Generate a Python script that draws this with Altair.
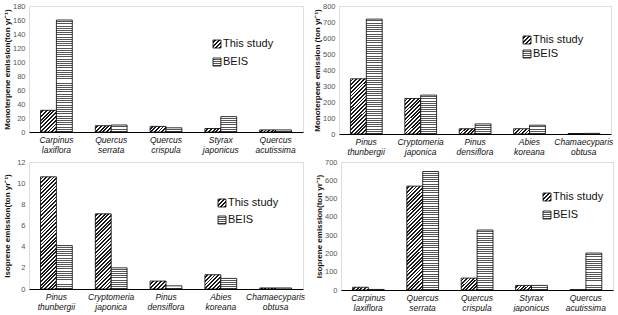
import altair as alt
import pandas as pd

# ---------------- data ----------------
series = ["This study", "BEIS"]

p1_species = ["Carpinus laxiflora", "Quercus serrata", "Quercus crispula", "Styrax japonicus", "Quercus acutissima"]
p1_study = [31, 9, 8, 5, 3]
p1_beis = [160, 10, 6, 22, 3]

p2_species = ["Pinus thunbergii", "Cryptomeria japonica", "Pinus densiflora", "Abies koreana", "Chamaecyparis obtusa"]
p2_study = [345, 222, 33, 33, 3]
p2_beis = [718, 243, 63, 55, 4]

p3_species = ["Pinus thunbergii", "Cryptomeria japonica", "Pinus densiflora", "Abies koreana", "Chamaecyparis obtusa"]
p3_study = [10.6, 7.1, 0.75, 1.35, 0.1]
p3_beis = [4.1, 2.0, 0.3, 1.0, 0.1]

p4_species = ["Carpinus laxiflora", "Quercus serrata", "Quercus crispula", "Styrax japonicus", "Quercus acutissima"]
p4_study = [15, 568, 65, 25, 2]
p4_beis = [3, 648, 328, 25, 202]

FONT = "Liberation Sans"
PAD_INNER = 0.42
PAD_OUTER = 0.21


# ---------------- pattern-like gradients (style only) ----------------
def gradient(n, dark_frac, x2, y2, dark, light="#ffffff"):
    stops = []
    for i in range(n):
        a = i / n
        b = (i + 1 - dark_frac) / n
        c = (i + 1) / n
        stops += [
            alt.GradientStop(offset=a, color=light),
            alt.GradientStop(offset=b, color=light),
            alt.GradientStop(offset=b, color=dark),
            alt.GradientStop(offset=c, color=dark),
        ]
    return alt.LinearGradient(gradient="linear", stops=stops, x1=0, y1=0, x2=x2, y2=y2)


def hatch_fill(w, h):
    # 45 degree "/" hatch with roughly constant spacing whatever the box shape
    h = max(h, 1.0)
    s = (w + h) / (w * w + h * h)
    n = max(1, round((w + h) / (2.6 * 1.414)))
    return gradient(n, 0.5, w * s, h * s, "#1a1a1a")


def stripe_fill(w, h):
    h = max(h, 1.0)
    n = max(1, round(h / 2.2))
    return gradient(n, 0.45, 0, 1, "#555555")


def panel(species, study, beis, ytitle, ymax, ystep, leg, w, h):
    rows = []
    for s, a, b in zip(species, study, beis):
        rows.append({"species": s, "series": series[0], "value": a})
        rows.append({"species": s, "series": series[1], "value": b})
    df = pd.DataFrame(rows)

    step = w / (len(species) - PAD_INNER + 2 * PAD_OUTER)
    bar_w = step * (1 - PAD_INNER) / 2

    base = alt.Chart(df).encode(
        x=alt.X(
            "species:N",
            sort=species,
            scale=alt.Scale(paddingInner=PAD_INNER, paddingOuter=PAD_OUTER),
            axis=alt.Axis(
                title=None,
                labelExpr="split(datum.label, ' ')",
                labelAngle=0,
                labelFontStyle="italic",
                labelFontSize=8.5,
                labelFont=FONT,
                labelColor="#111111",
                labelLineHeight=10,
                labelPadding=3,
                ticks=False,
                domainColor="#000000",
                domainWidth=1,
            ),
        ),
        xOffset=alt.XOffset("series:N", scale=alt.Scale(domain=series, paddingInner=0, paddingOuter=0)),
        y=alt.Y(
            "value:Q",
            scale=alt.Scale(domain=[0, ymax], nice=False),
            axis=alt.Axis(
                title=ytitle,
                values=list(range(0, ymax + 1, ystep)),
                ticks=False,
                grid=False,
                domain=False,
                labelFontSize=7.5,
                labelFont=FONT,
                labelColor="#555555",
                labelPadding=4,
                minExtent=16,
                maxExtent=16,
                titleFont=FONT,
                titleFontSize=8,
                titleFontWeight="bold",
                titleColor="#111111",
                titlePadding=2,
            ),
        ),
    )

    layers = []
    for r in rows:
        bh = r["value"] / ymax * h
        fill = hatch_fill(bar_w, bh) if r["series"] == series[0] else stripe_fill(bar_w, bh)
        layers.append(
            base.transform_filter(
                (alt.datum.series == r["series"]) & (alt.datum.species == r["species"])
            ).mark_bar(fill=fill, stroke="#000000", strokeWidth=0.8)
        )

    leg_df = pd.DataFrame({"series": series})
    lx, ly0, ly1 = leg
    leg_fills = [hatch_fill(8, 8), stripe_fill(8, 8)]
    for s, yy, f in zip(series, [ly0, ly1], leg_fills):
        sub = alt.Chart(leg_df).transform_filter(alt.datum.series == s)
        layers.append(
            sub.mark_square(size=64, fill=f, stroke="#000000", strokeWidth=0.8, opacity=1).encode(
                x=alt.value(lx), y=alt.value(yy)
            )
        )
        layers.append(
            sub.mark_text(align="left", baseline="middle", fontSize=11, font=FONT, color="#111111").encode(
                x=alt.value(lx + 6), y=alt.value(yy), text="series:N"
            )
        )

    return alt.layer(*layers).properties(width=w, height=h)


c1 = panel(p1_species, p1_study, p1_beis, "Monoterpene emission(ton yr⁻¹)", 180, 20, (188, 38, 56), 274, 126)
c2 = panel(p2_species, p2_study, p2_beis, "Monoterpene emission (ton yr⁻¹)", 800, 100, (188, 34, 48), 272, 128)
c3 = panel(p3_species, p3_study, p3_beis, "Isoprene emission(ton yr⁻¹)", 12, 2, (193, 41, 58), 274, 127)
c4 = panel(p4_species, p4_study, p4_beis, "Isoprene emission(ton yr⁻¹)", 700, 100, (206, 35, 53), 272, 128)

chart = (
    alt.vconcat(
        alt.hconcat(c1, c2, spacing=8),
        alt.hconcat(c3, c4, spacing=8),
        spacing=1,
    )
    .properties(padding={"left": 2, "top": 1, "right": 0, "bottom": 0})
    .configure_view(stroke="#999999", strokeWidth=1)
    .configure(background="white")
)

chart.save("out.html", embed_options={"renderer": "svg", "actions": False})
